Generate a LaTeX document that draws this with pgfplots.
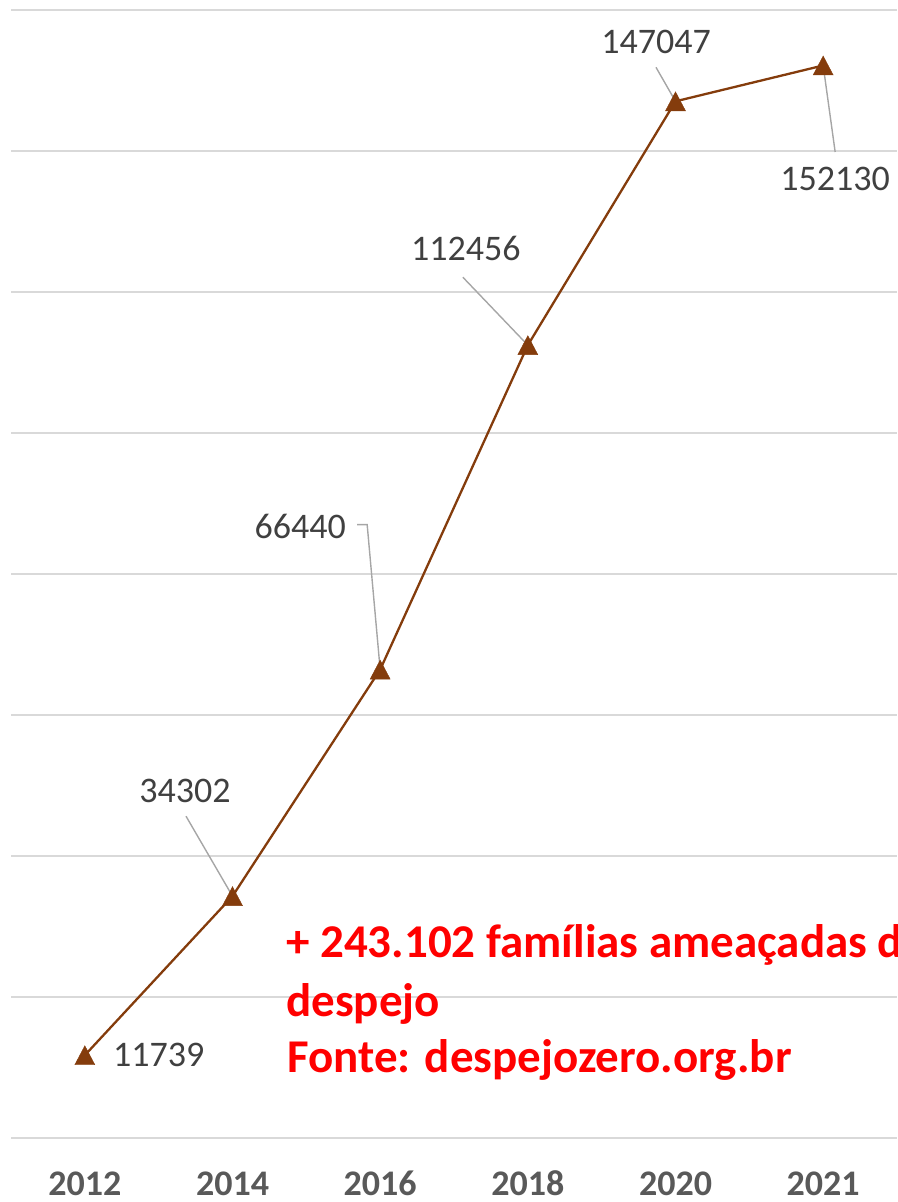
\documentclass[border=0pt]{standalone}
\usepackage{pgfplots}
\pgfplotsset{compat=1.18}
\usepackage{fontspec}
\setmainfont{Carlito}
\definecolor{linebrown}{HTML}{843C0C}
\definecolor{gridgray}{HTML}{D9D9D9}
\definecolor{labelgray}{HTML}{404040}
\definecolor{tickgray}{HTML}{595959}
\definecolor{leadergray}{HTML}{A6A6A6}
\pgfdeclareplotmark{xltri}{%
  \pgfpathmoveto{\pgfqpoint{0pt}{9.5pt}}%
  \pgfpathlineto{\pgfqpoint{10pt}{-9.5pt}}%
  \pgfpathlineto{\pgfqpoint{-10pt}{-9.5pt}}%
  \pgfpathclose
  \pgfusepathqfillstroke}
\begin{document}
\begin{tikzpicture}
\begin{axis}[
  at={(0,0)}, anchor=south west,
  scale only axis,
  width=886pt, height=1128pt,
  xmin=-0.5, xmax=5.5,
  ymin=0, ymax=160000,
  xtick={0,1,2,3,4,5},
  xticklabels={2012,2014,2016,2018,2020,2021},
  xticklabel style={font=\fontsize{36}{43}\selectfont\bfseries, text=tickgray, anchor=base, inner sep=0pt, yshift=-57pt},
  ytick={0,20000,...,160000},
  ymajorticks=false,
  ymajorgrids,
  grid style={gridgray, line width=1.8pt},
  axis line style={draw=none},
  major tick length=0pt,
  clip=false,
]
\addplot[linebrown, line width=2.3pt, mark=xltri, mark options={fill=linebrown, draw=linebrown, line width=0.4pt, solid}]
  coordinates {(0,11739) (1,34302) (2,66440) (3,112456) (4,147047) (5,152130)};

% leader lines
\draw[leadergray, line width=1.4pt] (axis cs:1,34302) ++(-46.5pt,80pt) -- (axis cs:1,34302);
\draw[leadergray, line width=1.4pt] (axis cs:2,66440) ++(-23pt,145pt) -- ++(10pt,0pt) -- (axis cs:2,66440);
\draw[leadergray, line width=1.4pt] (axis cs:3,112456) ++(-65pt,68pt) -- (axis cs:3,112456);
\draw[leadergray, line width=1.4pt] (axis cs:4,147047) ++(-19.5pt,34pt) -- (axis cs:4,147047);
\draw[leadergray, line width=1.4pt] (axis cs:5,152130) ++(12pt,-86.5pt) -- (axis cs:5,152130);

% data labels
\tikzset{dl/.style={font=\fontsize{36}{43}\selectfont, text=labelgray, inner sep=0pt}}
\node[dl, anchor=west] at ([xshift=28pt]axis cs:0,11739) {11739};
\node[dl] at ([xshift=-47.5pt, yshift=105pt]axis cs:1,34302) {34302};
\node[dl] at ([xshift=-80pt, yshift=143pt]axis cs:2,66440) {66440};
\node[dl] at ([xshift=-62pt, yshift=97pt]axis cs:3,112456) {112456};
\node[dl] at ([xshift=-19.5pt, yshift=59pt]axis cs:4,147047) {147047};
\node[dl] at ([xshift=12pt, yshift=-113.5pt]axis cs:5,152130) {152130};
\end{axis}
% annotation text
\tikzset{rt/.style={font=\fontsize{47}{57}\selectfont\bfseries, text=red, inner sep=0pt, anchor=base west}}
\node[rt] at (275pt,180pt) {+ 243.102 famílias ameaçadas de};
\node[rt] at (275pt,121pt) {despejo};
\node[rt] at (276pt,65pt) {Fonte: despejozero.org.br};
\pgfresetboundingbox
\useasboundingbox (-11pt,-64pt) rectangle (886pt,1138pt);
\end{tikzpicture}
\end{document}
